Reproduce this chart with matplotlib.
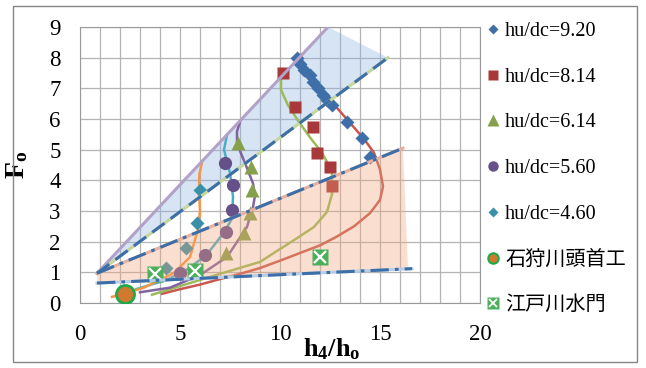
import matplotlib
matplotlib.use('Agg')
import matplotlib.pyplot as plt
from matplotlib.lines import Line2D
from matplotlib.patches import Polygon, Rectangle

plt.rcParams['font.family'] = ['Liberation Serif', 'Noto Sans CJK JP']
plt.rcParams['mathtext.fontset'] = 'custom'
plt.rcParams['mathtext.rm'] = 'Liberation Serif'
plt.rcParams['mathtext.bf'] = 'Liberation Serif:bold'
plt.rcParams['mathtext.it'] = 'Liberation Serif:italic'

# measured points
x_920 = [10.83, 11.0, 11.2, 11.5, 11.65, 11.9, 12.15, 12.35, 12.6, 13.35, 14.1, 14.5]
y_920 = [7.98, 7.8, 7.6, 7.43, 7.2, 7.0, 6.78, 6.62, 6.46, 5.9, 5.38, 4.77]
x_814 = [10.17, 10.75, 11.67, 11.87, 12.5, 12.6]
y_814 = [7.5, 6.38, 5.74, 4.88, 4.45, 3.8]
x_614 = [7.9, 8.55, 8.6, 8.5, 8.2, 7.3]
y_614 = [5.22, 4.45, 3.68, 2.92, 2.27, 1.64]
x_560 = [7.25, 7.65, 7.6, 7.3, 6.25, 5.0]
y_560 = [4.56, 3.85, 3.03, 2.32, 1.57, 0.98]
x_460 = [6.0, 5.85, 5.3, 4.3]
y_460 = [3.68, 2.6, 1.79, 1.13]
x_ishikari = [2.25]
y_ishikari = [0.3]
x_edogawa = [3.75, 5.75, 12.0]
y_edogawa = [0.95, 1.05, 1.5]

# calculated curves
cx_920 = [4.1, 5.0, 6.0, 7.0, 8.0, 9.0, 10.0, 11.0, 12.0, 12.8, 13.7, 14.5, 15.0, 15.15,
          15.0, 14.7, 14.2, 13.4, 12.6, 11.9, 11.4, 11.1, 11.05]
cy_920 = [0.3, 0.45, 0.6, 0.78, 0.95, 1.14, 1.38, 1.63, 1.88, 2.15, 2.5, 2.93, 3.36, 3.8,
          4.35, 4.9, 5.35, 5.95, 6.55, 7.1, 7.55, 7.9, 8.1]
cx_814 = [3.6, 5.0, 7.0, 9.0, 10.0, 10.7, 11.7, 12.35, 12.6, 12.6, 12.1, 11.5, 10.9, 10.4,
          10.05, 10.05, 10.3]
cy_814 = [0.27, 0.55, 0.95, 1.34, 1.76, 2.05, 2.48, 2.97, 3.55, 4.3, 4.9, 5.4, 5.95, 6.45,
          6.95, 7.3, 7.6]
cx_614 = [3.0, 4.5, 6.0, 7.35, 8.35, 8.65, 8.75, 8.65, 8.35, 7.85, 7.85, 8.0]
cy_614 = [0.35, 0.5, 0.91, 1.5, 2.48, 3.13, 3.5, 3.9, 4.4, 5.2, 5.6, 5.9]
cx_560 = [2.8, 4.33, 5.33, 6.33, 7.2, 7.6, 7.65, 7.5, 7.2, 7.35]
cy_560 = [0.45, 0.75, 1.08, 1.57, 2.3, 2.75, 3.46, 4.24, 5.0, 5.48]
cx_460 = [1.6, 3.2, 4.7, 5.5, 5.9, 6.0, 5.95, 5.97, 6.1]
cy_460 = [0.2, 0.5, 0.98, 1.5, 2.4, 3.0, 3.6, 4.2, 4.6]

# range lines and shaded zones
upper_x = [0.85, 12.4]
upper_y = [0.97, 9.0]
mid_x = [0.85, 15.4]
mid_y = [0.97, 8.0]
low_x = [0.85, 16.15]
low_y = [0.97, 5.05]
base_x = [0.85, 16.6]
base_y = [0.65, 1.12]
blue_zone = [(0.85, 0.97), (12.4, 9.0), (15.4, 8.0)]
peach_zone = [(0.85, 0.97), (16.15, 5.05), (16.4, 1.1), (0.85, 0.65)]

labels = ['hu/dc=9.20', 'hu/dc=8.14', 'hu/dc=6.14', 'hu/dc=5.60', 'hu/dc=4.60',
          '石狩川頭首工', '江戸川水門']

c_blue = '#3f6fa9'
c_red = '#a8383a'
c_green = '#86a04c'
c_purple = '#65508a'
c_teal = '#3a90a8'
c_dash = '#3c6ea8'

fig = plt.figure(figsize=(6.46, 3.68), dpi=100)
ax = fig.add_axes([80 / 646, 1 - 303 / 368, 400 / 646, 276 / 368])

ax.set_xlim(0, 20)
ax.set_ylim(0, 9)
ax.set_xticks(range(0, 21, 5))
ax.set_xticks(range(0, 21), minor=True)
ax.set_yticks(range(0, 10))
ax.grid(which='both', color='#b4b4b4', lw=0.9, zorder=0.5)
ax.set_axisbelow(True)
ax.tick_params(which='both', length=0, labelsize=16.5)
ax.tick_params(axis='x', pad=15)
ax.tick_params(axis='y', pad=14)
for s in ax.spines.values():
    s.set_color('#9a9a9a')

ax.add_patch(Polygon(blue_zone, closed=True, fc='#8db3e2', ec='none', alpha=0.35, zorder=1))

ax.plot(cx_920, cy_920, color='#c8574f', lw=1.8, zorder=2)
ax.plot(cx_814, cy_814, color='#9bbb59', lw=1.8, zorder=2)
ax.plot(cx_614, cy_614, color='#8064a2', lw=1.8, zorder=2)
ax.plot(cx_560, cy_560, color='#4bacc6', lw=1.8, zorder=2)
ax.plot(cx_460, cy_460, color='#f79646', lw=1.8, zorder=2)

ax.plot(x_614, y_614, '^', ms=10, color=c_green, mec='none', zorder=3)
ax.plot(x_560, y_560, 'o', ms=9.5, color=c_purple, mec='none', zorder=3)
ax.plot(x_460, y_460, 'D', ms=7.3, color=c_teal, mec='none', zorder=3)
ax.plot(x_814, y_814, 's', ms=9, color=c_red, mec='none', zorder=3)
ax.plot(x_920, y_920, 'D', ms=7.3, color=c_blue, mec='none', zorder=3)

ax.add_patch(Polygon(peach_zone, closed=True, fc='#f1a679', ec='none', alpha=0.35, zorder=4))

ax.plot(x_edogawa, y_edogawa, 's', ms=11, color='#4caf5c', mec='none', zorder=5)
ax.plot(x_edogawa, y_edogawa, 'x', ms=8, color='white', mew=1.6, zorder=5.1)
ax.plot(x_ishikari, y_ishikari, 'o', ms=13, mfc='#d07a30', mec='#1faa4a', mew=2, zorder=5)

ax.plot(upper_x, upper_y, color='#b3a2c7', lw=2.2, zorder=6)
ax.plot(mid_x, mid_y, color='#c3d69b', lw=2.2, zorder=6)
ax.plot(mid_x, mid_y, color=c_dash, lw=2.2, dashes=(5, 2.5), zorder=6.1)
ax.plot(low_x, low_y, color='#e6b0a0', lw=2.2, zorder=6)
ax.plot(low_x, low_y, color=c_dash, lw=2.2, dashes=(6, 2, 1.2, 2), zorder=6.1)
ax.plot(base_x, base_y, color='#b9cde5', lw=2.2, zorder=6)
ax.plot(base_x, base_y, color=c_dash, lw=2.2, dashes=(6, 2, 1.2, 2), zorder=6.1)

ax.set_ylabel(r'$\mathbf{F_o}$', fontsize=20, rotation=90)
ax.yaxis.set_label_coords(-0.125, 0.5)
ax.set_xlabel(r'$\mathbf{h_4/h_o}$', fontsize=19)
ax.xaxis.set_label_coords(0.63, -0.12)

handles = [
    Line2D([], [], ls='none', marker='D', ms=5.5, color=c_blue, mec='none'),
    Line2D([], [], ls='none', marker='s', ms=7, color=c_red, mec='none'),
    Line2D([], [], ls='none', marker='^', ms=8, color=c_green, mec='none'),
    Line2D([], [], ls='none', marker='o', ms=7.5, color=c_purple, mec='none'),
    Line2D([], [], ls='none', marker='D', ms=5.5, color=c_teal, mec='none'),
    Line2D([], [], ls='none', marker='o', ms=7.5, mfc='#d07a30', mec='#1faa4a', mew=1.5),
    (Line2D([], [], ls='none', marker='s', ms=8, color='#4caf5c', mec='none'),
     Line2D([], [], ls='none', marker='x', ms=5.5, color='white', mew=1.3)),
]
fig.legend(handles, labels, loc='upper left', bbox_to_anchor=(486 / 646, 1 - 22 / 368),
           frameon=False, fontsize=14.5, handlelength=0.65, handletextpad=0.3,
           labelspacing=1.32, borderpad=0, borderaxespad=0)

fig.patches.append(Rectangle((13 / 646, 6 / 368), 624 / 646, 356 / 368, transform=fig.transFigure,
                             fill=False, ec='#868686', lw=1))

fig.savefig('out.png', dpi=100)
